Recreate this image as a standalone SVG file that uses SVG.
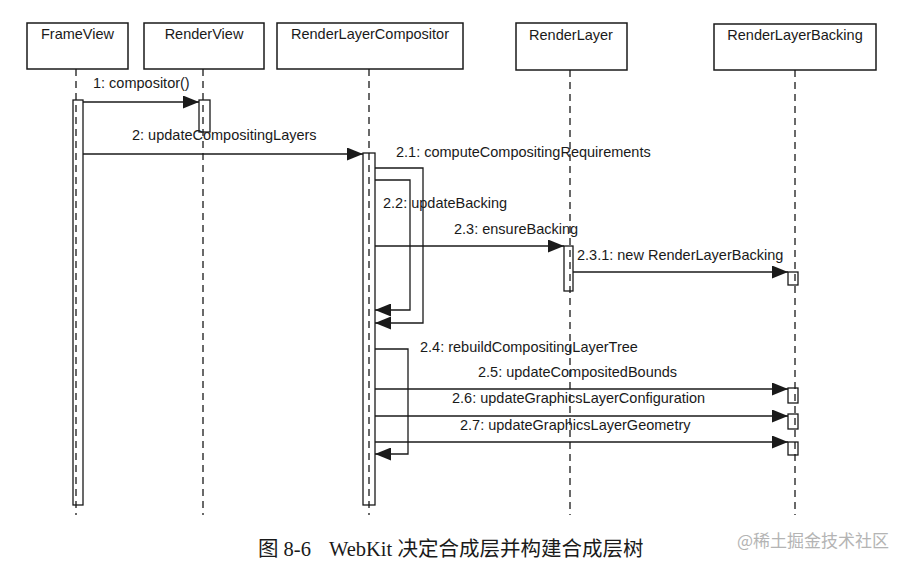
<svg xmlns="http://www.w3.org/2000/svg" width="904" height="565" viewBox="0 0 904 565">
<defs>
<style>
.box{fill:#fff;stroke:#1a1a1a;stroke-width:1.5}
.life{stroke:#1a1a1a;stroke-width:1.3;stroke-dasharray:7,5;fill:none}
.act{fill:none;stroke:#1a1a1a;stroke-width:1.3}
.msg{fill:none;stroke:#1a1a1a;stroke-width:1.3;marker-end:url(#ah)}
.t{font-family:"Liberation Sans",Arial,sans-serif;font-size:14.5px;fill:#1a1a1a}
.n{text-anchor:middle}
.cap{font-family:"Liberation Serif","Noto Sans CJK SC",serif;font-size:20.5px;fill:#1a1a1a}
.wm{font-family:"Noto Sans CJK SC",sans-serif;font-size:17px;fill:#b4b4b4}
</style>
<marker id="ah" markerUnits="userSpaceOnUse" markerWidth="17" markerHeight="13" refX="16" refY="6.5" orient="auto">
<path d="M0,0 L16,6.5 L0,13 z" fill="#1a1a1a"/>
</marker>
</defs>
<rect width="904" height="565" fill="#fff"/>

<g id="FrameView">
<rect class="box" x="27" y="23" width="101" height="46"/>
<text class="t n" x="77.5" y="39">FrameView</text>
<line class="life" x1="76" y1="69" x2="76" y2="515"/>
<rect class="act" x="73" y="100" width="10" height="405"/>
</g>
<g id="RenderView">
<rect class="box" x="144" y="23" width="120" height="46"/>
<text class="t n" x="204" y="39">RenderView</text>
<line class="life" x1="203" y1="69" x2="203" y2="515"/>
<rect class="act" x="199" y="100" width="11" height="32"/>
</g>
<g id="RenderLayerCompositor">
<rect class="box" x="277" y="23" width="186" height="46"/>
<text class="t n" x="370" y="39">RenderLayerCompositor</text>
<line class="life" x1="369" y1="69" x2="369" y2="515"/>
<rect class="act" x="363" y="153" width="12" height="352"/>
</g>
<g id="RenderLayer">
<rect class="box" x="516" y="23" width="111" height="47"/>
<text class="t n" x="571" y="40">RenderLayer</text>
<line class="life" x1="570" y1="70" x2="570" y2="515"/>
<rect class="act" x="564" y="246" width="9" height="45"/>
</g>
<g id="RenderLayerBacking">
<rect class="box" x="714" y="24" width="162" height="46"/>
<text class="t n" x="795" y="40">RenderLayerBacking</text>
<line class="life" x1="795" y1="70" x2="795" y2="515"/>
<rect class="act" x="788" y="272" width="10" height="13"/>
<rect class="act" x="788" y="388" width="10" height="15"/>
<rect class="act" x="788" y="414" width="10" height="15"/>
<rect class="act" x="788" y="442" width="10" height="13"/>
</g>

<g id="connectors">
<path class="msg" d="M83,102 H199"/>
<path class="msg" d="M83,154 H363"/>
<path class="msg" d="M375,168 H423 V323 H375"/>
<path class="msg" d="M375,180 H410 V310 H375"/>
<path class="msg" d="M375,246 H564"/>
<path class="msg" d="M573,272 H788"/>
<path class="msg" d="M375,349 H408 V454 H375"/>
<path class="msg" d="M375,389 H788"/>
<path class="msg" d="M375,416 H788"/>
<path class="msg" d="M375,442 H788"/>
</g>

<g id="labels">
<text class="t" x="93" y="88">1: compositor()</text>
<text class="t" x="132" y="140">2: updateCompositingLayers</text>
<text class="t" x="396" y="157">2.1: computeCompositingRequirements</text>
<text class="t" x="383" y="208">2.2: updateBacking</text>
<text class="t" x="454" y="234">2.3: ensureBacking</text>
<text class="t" x="577" y="260">2.3.1: new RenderLayerBacking</text>
<text class="t" x="420" y="352">2.4: rebuildCompositingLayerTree</text>
<text class="t" x="478" y="377">2.5: updateCompositedBounds</text>
<text class="t" x="452" y="403">2.6: updateGraphicsLayerConfiguration</text>
<text class="t" x="460" y="430">2.7: updateGraphicsLayerGeometry</text>
</g>

<text class="cap" x="258" y="556">图 8-6</text>
<text class="cap" x="329" y="556">WebKit 决定合成层并构建合成层树</text>
<text class="wm" x="737" y="547">@稀土掘金技术社区</text>
</svg>
